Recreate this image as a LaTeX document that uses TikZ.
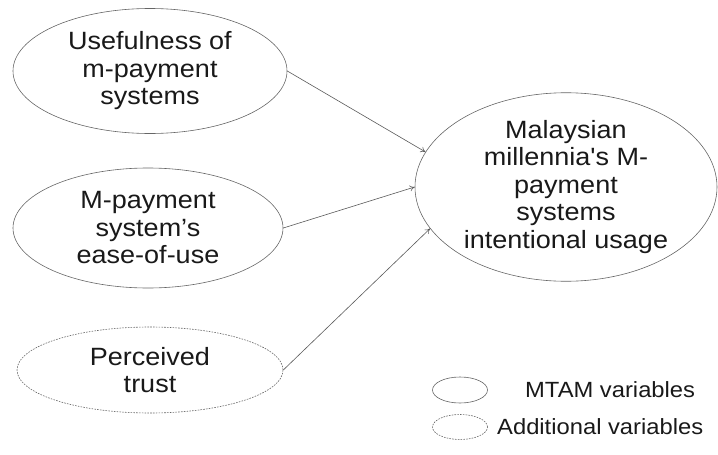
\documentclass[tikz,border=0pt]{standalone}
\usepackage{fontspec}
\setmainfont{Liberation Sans}[FakeStretch=1.08]
% same face without the TeX quote mapping, for a straight apostrophe
\newfontfamily\plainquote{Liberation Sans}[FakeStretch=1.08,Ligatures=ResetAll]
\usetikzlibrary{shapes.geometric,arrows.meta}
\begin{document}
\begin{tikzpicture}[x=1pt,y=-1pt,
  construct/.style={ellipse,draw=black!60,line width=0.6pt,inner sep=0pt,
    align=center,text=black!90,font=\fontsize{25}{27.5}\selectfont},
  extra/.style={construct,dash pattern=on 1.6pt off 1.2pt},
  link/.style={draw=black!65,line width=0.6pt,-{To[length=5pt,width=6pt]}},
  legendtxt/.style={anchor=west,inner sep=0pt,text=black!90,font=\fontsize{22}{24}\selectfont}]
  \useasboundingbox (0,0) rectangle (718,455);

  % exogenous constructs
  \node[construct,minimum width=274pt,minimum height=125pt] (useful) at (150,71)
    {Usefulness of\\m-payment\\systems};
  \node[construct,minimum width=270pt,minimum height=120pt] (ease) at (148,228)
    {M-payment\\system’s\\ease-of-use};
  \node[extra,minimum width=266pt,minimum height=86pt] (trust) at (150,370)
    {Perceived\\trust};

  % endogenous construct
  \node[construct,minimum width=302pt,minimum height=182pt] (intent) at (566,187)
    {Malaysian\\millennia{\plainquote'}s M-\\payment\\systems\\intentional usage};

  % paths
  \draw[link] (useful.east) -- (intent.166);
  \draw[link] (ease.east) -- (intent.180);
  \draw[link] (trust.east) -- (intent.197);

  % legend
  \node[ellipse,draw=black!60,line width=0.6pt,minimum width=55pt,minimum height=26pt,inner sep=0pt] (keyA) at (460,390) {};
  \node[legendtxt] (keyAtxt) at (525,390) {MTAM variables};
  \node[ellipse,draw=black!60,line width=0.6pt,dash pattern=on 1.6pt off 1.2pt,minimum width=55pt,minimum height=25pt,inner sep=0pt] (keyB) at (460,427) {};
  \node[legendtxt] (keyBtxt) at (497,427) {Additional variables};
\end{tikzpicture}
\end{document}
